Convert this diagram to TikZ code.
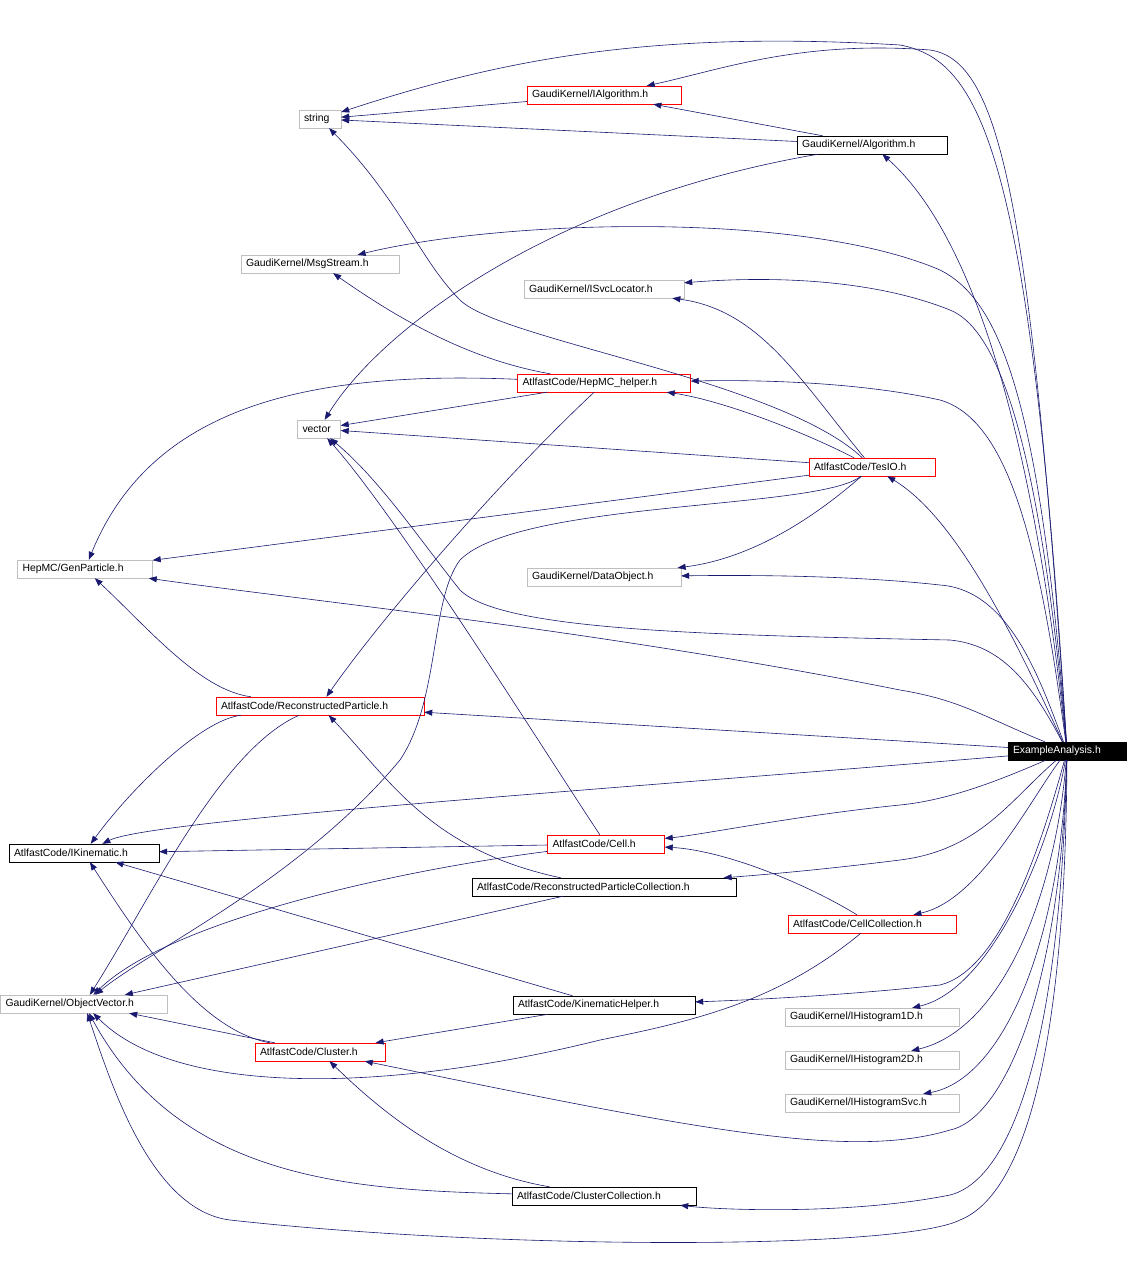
\documentclass[tikz,border=0pt]{standalone}
\usepackage{fontspec}
\setmainfont{Liberation Sans}
\usetikzlibrary{arrows.meta}
\definecolor{navy}{RGB}{25,25,112}
\definecolor{gb}{RGB}{191,191,191}
\begin{document}
\begin{tikzpicture}[x=1pt,y=-1pt,
  nd/.style={draw, rectangle, minimum height=18pt, inner xsep=5pt, inner ysep=0pt, font=\fontsize{10.4}{12}\selectfont, fill=white, align=left},
  w/.style={text width=#1},
  gn/.style={nd, draw=gb},
  rn/.style={nd, draw=red},
  bn/.style={nd, draw=black},
  e/.style={draw=navy, line width=0.6pt, -{Triangle[length=8pt,width=6pt]}}]
\fill[white] (0,0) rectangle (1128,1280);
\useasboundingbox (0,0) rectangle (1128,1280);
\node[gn, w=32pt] (string) at (320,119) {string};
\node[rn, w=144pt] (IAlg) at (604,95) {GaudiKernel/IAlgorithm.h};
\node[bn, w=140pt] (Alg) at (872,145) {GaudiKernel/Algorithm.h};
\node[gn, w=148pt] (Msg) at (320,264) {GaudiKernel/MsgStream.h};
\node[gn, w=150pt] (ISvc) at (604,289) {GaudiKernel/ISvcLocator.h};
\node[rn, w=163pt] (HepMC) at (604,383) {AtlfastCode/HepMC\_helper.h};
\node[gn, w=33pt] (vector) at (319,429) {vector};
\node[rn, w=116pt] (TesIO) at (872,467) {AtlfastCode/TesIO.h};
\node[gn, w=125pt] (Gen) at (85,569) {HepMC/GenParticle.h};
\node[gn, w=144pt] (DataObj) at (604,577) {GaudiKernel/DataObject.h};
\node[rn, w=198pt] (RP) at (320,706) {AtlfastCode/ReconstructedParticle.h};
\node[nd, fill=black, text=white, w=108pt] (E) at (1067,751) {ExampleAnalysis.h};
\node[bn, w=140pt] (IKin) at (84,853) {AtlfastCode/IKinematic.h};
\node[rn, w=107pt] (Cell) at (606,844) {AtlfastCode/Cell.h};
\node[bn, w=254pt] (RPC) at (604,887) {AtlfastCode/ReconstructedParticleCollection.h};
\node[rn, w=158pt] (CellC) at (872,924) {AtlfastCode/CellCollection.h};
\node[gn, w=157pt] (OV) at (84,1004) {GaudiKernel/ObjectVector.h};
\node[bn, w=172pt] (KH) at (604,1005) {AtlfastCode/KinematicHelper.h};
\node[gn, w=164pt] (H1) at (872,1017) {GaudiKernel/IHistogram1D.h};
\node[gn, w=164pt] (H2) at (872,1060) {GaudiKernel/IHistogram2D.h};
\node[gn, w=164pt] (HS) at (872,1103) {GaudiKernel/IHistogramSvc.h};
\node[rn, w=120pt] (Cl) at (320,1052) {AtlfastCode/Cluster.h};
\node[bn, w=174pt] (CC) at (604,1196) {AtlfastCode/ClusterCollection.h};

% from ExampleAnalysis
\draw[e] (E) .. controls (1030,150) and (980,60) .. (900,45) .. controls (650,30) and (500,60) .. (string);
\draw[e] (E) .. controls (1030,200) and (1000,60) .. (930,50) .. controls (800,40) and (720,70) .. (IAlg);
\draw[e] (E) .. controls (1040,500) and (990,250) .. (Alg);
\draw[e] (E) .. controls (1040,400) and (1000,300) .. (940,270) .. controls (800,210) and (500,220) .. (Msg);
\draw[e] (E) .. controls (1040,450) and (1000,330) .. (950,310) .. controls (850,270) and (720,280) .. (ISvc);
\draw[e] (E) .. controls (1040,550) and (1010,420) .. (940,400) .. controls (850,380) and (740,380) .. (HepMC);
\draw[e] (E) .. controls (1020,650) and (960,520) .. (TesIO);
\draw[e] (E) .. controls (1040,680) and (1010,590) .. (940,585) .. controls (850,575) and (740,575) .. (DataObj);
\draw[e] (E) .. controls (1030,680) and (1000,645) .. (950,640) .. controls (700,635) and (500,630) .. (460,590) .. controls (420,540) and (380,480) .. (vector);
\draw[e] (E) .. controls (980,715) and (960,700) .. (900,690) .. controls (600,630) and (300,600) .. (Gen);
\draw[e] (E) -- (RP);
\draw[e] (E) .. controls (600,790) and (150,820) .. (IKin);
\draw[e] (E) .. controls (1000,780) and (950,800) .. (900,805) .. controls (800,815) and (700,835) .. (Cell);
\draw[e] (E) .. controls (1010,800) and (980,850) .. (900,860) .. controls (820,870) and (760,875) .. (RPC);
\draw[e] (E) .. controls (1030,800) and (980,900) .. (CellC);
\draw[e] (E) .. controls (1040,850) and (1000,970) .. (940,985) .. controls (850,995) and (750,1000) .. (KH);
\draw[e] (E) .. controls (1050,850) and (990,990) .. (H1);
\draw[e] (E) .. controls (1055,900) and (1000,1030) .. (H2);
\draw[e] (E) .. controls (1060,950) and (1000,1080) .. (HS);
\draw[e] (E) .. controls (1060,1000) and (1000,1120) .. (950,1130) .. controls (850,1160) and (700,1130) .. (Cl);
\draw[e] (E) .. controls (1060,1050) and (1010,1180) .. (950,1195) .. controls (850,1215) and (720,1210) .. (CC);
\draw[e] (E) .. controls (1065,1100) and (1010,1200) .. (960,1220) .. controls (900,1250) and (500,1250) .. (230,1220) .. controls (150,1210) and (110,1080) .. (OV);

% others
\draw[e] (IAlg) -- (string);
\draw[e] (Alg) -- (string);
\draw[e] (Alg) -- (IAlg);
\draw[e] (Alg) .. controls (550,200) and (380,330) .. (vector);
\draw[e] (TesIO) .. controls (780,380) and (500,340) .. (460,300) .. controls (420,260) and (400,200) .. (string);
\draw[e] (TesIO) .. controls (800,380) and (760,310) .. (ISvc);
\draw[e] (TesIO) .. controls (800,430) and (720,400) .. (HepMC);
\draw[e] (TesIO) -- (vector);
\draw[e] (TesIO) -- (Gen);
\draw[e] (TesIO) .. controls (800,530) and (740,560) .. (DataObj);
\draw[e] (TesIO) .. controls (820,510) and (520,500) .. (460,560) .. controls (430,600) and (440,700) .. (400,760) .. controls (300,880) and (150,950) .. (OV);
\draw[e] (HepMC) .. controls (470,360) and (400,320) .. (Msg);
\draw[e] (HepMC) -- (vector);
\draw[e] (HepMC) .. controls (300,370) and (150,410) .. (Gen);
\draw[e] (HepMC) .. controls (500,480) and (380,620) .. (RP);
\draw[e] (RP) .. controls (200,690) and (150,630) .. (Gen);
\draw[e] (RP) .. controls (200,720) and (130,790) .. (IKin);
\draw[e] (RP) .. controls (220,750) and (150,900) .. (OV);
\draw[e] (Cell) .. controls (550,760) and (400,520) .. (vector);
\draw[e] (Cell) -- (IKin);
\draw[e] (Cell) .. controls (400,870) and (170,920) .. (OV);
\draw[e] (RPC) .. controls (430,850) and (390,780) .. (RP);
\draw[e] (RPC) -- (OV);
\draw[e] (CellC) .. controls (800,880) and (720,850) .. (Cell);
\draw[e] (CellC) .. controls (780,1000) and (700,1020) .. (600,1040) .. controls (400,1090) and (180,1100) .. (OV);
\draw[e] (KH) -- (IKin);
\draw[e] (KH) -- (Cl);
\draw[e] (Cl) .. controls (200,1030) and (140,940) .. (IKin);
\draw[e] (Cl) -- (OV);
\draw[e] (CC) .. controls (450,1170) and (380,1110) .. (Cl);
\draw[e] (CC) .. controls (350,1190) and (180,1180) .. (OV);
\end{tikzpicture}
\end{document}
